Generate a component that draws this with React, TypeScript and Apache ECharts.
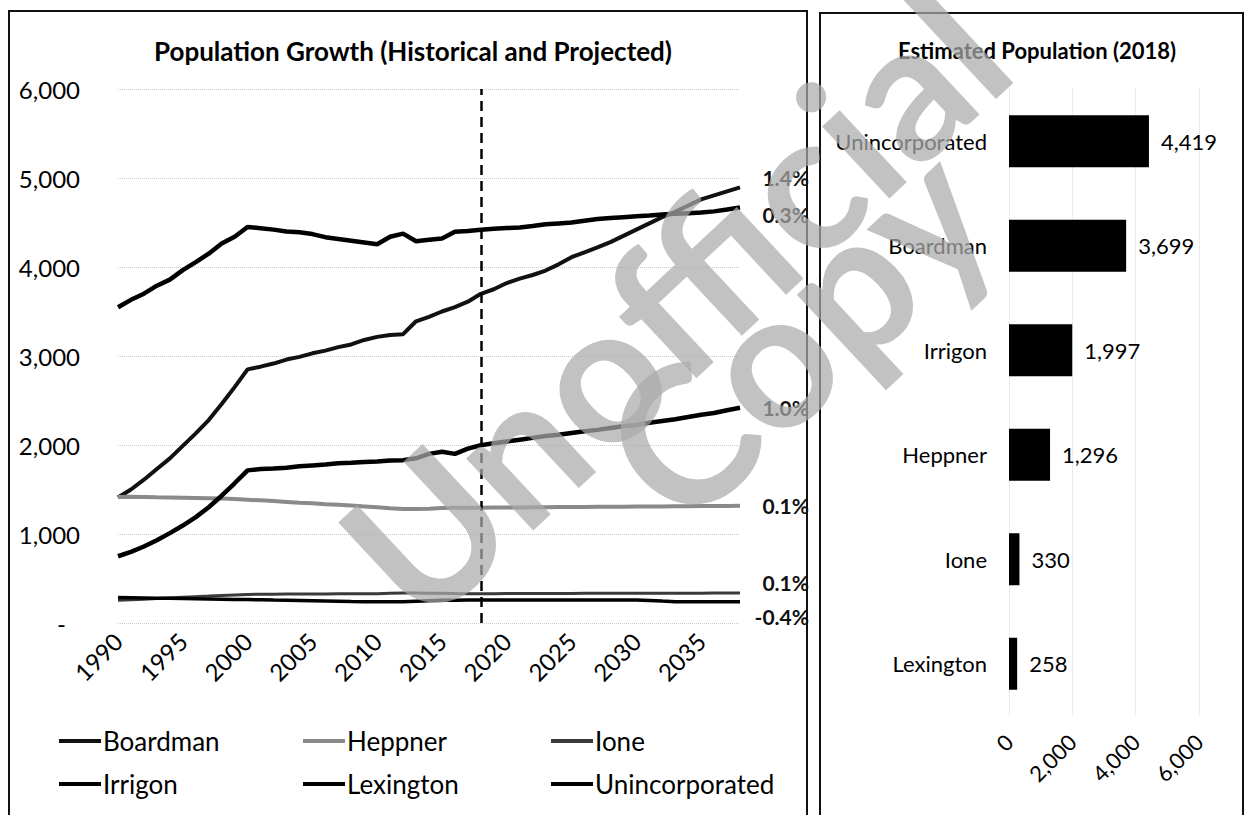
import React, { useEffect, useRef } from "react";
import * as echarts from "echarts";

const years: string[] = [];
for (let y = 1990; y <= 2038; y++) years.push(String(y));

const boardman = [1410,1500,1610,1730,1850,1990,2130,2280,2460,2650,2850,2880,2915,2960,2990,3030,3060,3100,3130,3180,3215,3235,3245,3390,3440,3500,3550,3610,3699,3750,3820,3870,3910,3960,4030,4110,4165,4220,4280,4350,4420,4490,4560,4620,4690,4760,4805,4850,4895];
const heppner = [1415,1418,1415,1412,1410,1408,1405,1402,1398,1392,1385,1378,1370,1360,1350,1345,1335,1328,1320,1310,1300,1290,1282,1280,1285,1292,1295,1295,1296,1297,1298,1299,1300,1301,1302,1303,1304,1305,1306,1307,1308,1309,1310,1311,1312,1314,1315,1316,1318];
const ione = [255,262,268,275,282,289,296,302,309,315,321,323,324,325,326,327,327,328,328,329,329,335,336,336,335,333,331,330,330,330,331,331,331,332,332,332,333,333,333,333,334,334,334,335,335,335,336,336,336];
const irrigon = [750,800,860,930,1010,1095,1190,1300,1430,1570,1715,1730,1735,1745,1760,1770,1780,1795,1800,1810,1815,1825,1830,1850,1900,1925,1900,1960,1997,2020,2040,2060,2080,2100,2115,2135,2155,2170,2190,2210,2225,2250,2270,2290,2315,2340,2360,2390,2418];
const lexington = [286,284,282,279,277,275,272,270,268,265,263,261,258,256,253,250,247,244,241,239,238,238,238,245,250,255,257,258,258,258,258,258,258,258,258,258,258,258,258,258,258,254,246,240,238,238,238,238,238];
const unincorporated = [3547,3631,3700,3790,3858,3965,4055,4150,4265,4340,4450,4435,4420,4400,4390,4370,4335,4315,4295,4275,4255,4340,4375,4290,4305,4320,4395,4405,4419,4430,4437,4443,4460,4480,4490,4500,4520,4540,4550,4560,4570,4578,4590,4598,4605,4612,4625,4645,4668];

const seriesNames = ["Boardman", "Heppner", "Ione", "Irrigon", "Lexington", "Unincorporated"];
const growthLabels = ["1.4%", "0.1%", "0.1%", "1.0%", "-0.4%", "0.3%"];

const barCategories = ["Unincorporated", "Boardman", "Irrigon", "Heppner", "Ione", "Lexington"];
const barValues = [4419, 3699, 1997, 1296, 330, 258];

const FONT = "Lato";

export default function App() {
  const ref = useRef<HTMLDivElement>(null);
  useEffect(() => {
    if (!ref.current) return;
    const chart = echarts.init(ref.current, undefined, { renderer: "svg" });
    const lineData = [boardman, heppner, ione, irrigon, lexington, unincorporated];
    const colors = ["#111", "#8a8a8a", "#3a3a3a", "#000", "#000", "#000"];
    const widths = [4, 4, 3, 4.5, 3.5, 4.5];
    const labelDy = [-10, 0, -11, 0, 15, 7];
    const fmt = (v: number) => v.toLocaleString("en-US");

    const lineSeries = seriesNames.map((name, i) => ({
      name,
      type: "line",
      xAxisIndex: 0,
      yAxisIndex: 0,
      data: lineData[i],
      symbol: "none",
      showSymbol: false,
      color: colors[i],
      lineStyle: { color: colors[i], width: widths[i] },
      endLabel: {
        show: true,
        formatter: () => growthLabels[i],
        fontFamily: FONT,
        fontWeight: "bold",
        fontSize: 21,
        color: "#111",
        align: "right",
        offset: [61, labelDy[i]],
      },
      ...(name === "Unincorporated"
        ? {
            markLine: {
              silent: true,
              symbol: ["none", "none"],
              label: { show: false },
              lineStyle: { color: "#000", width: 2.5, type: [10, 6] },
              data: [{ xAxis: "2018" }],
            },
          }
        : {}),
    }));

    const legendPos = [
      [54, 723], [298, 723], [546, 723],
      [54, 766], [298, 766], [546, 766],
    ];

    const wmStyle = {
      fontFamily: FONT,
      fontWeight: "bold",
      fontSize: 192,
      fill: "rgba(170,170,170,0.72)",
      align: "center",
      verticalAlign: "middle",
    };

    chart.setOption({
      animation: false,
      textStyle: { fontFamily: FONT },
      title: [
        {
          text: "Population Growth (Historical and Projected)",
          left: 408,
          top: 33,
          textAlign: "center",
          textStyle: { fontFamily: FONT, fontWeight: "bold", fontSize: 26, color: "#000" },
        },
        {
          text: "Estimated Population (2018)",
          left: 1032,
          top: 34,
          textAlign: "center",
          textStyle: { fontFamily: FONT, fontWeight: "bold", fontSize: 22, color: "#000" },
        },
      ],
      legend: seriesNames.map((n, i) => ({
        data: [n],
        left: legendPos[i][0],
        top: legendPos[i][1],
        icon: "rect",
        itemWidth: 42,
        itemHeight: 4,
        itemGap: 0,
        textStyle: { fontFamily: FONT, fontSize: 26, color: "#000", padding: [0, 0, 0, -3] },
        selectedMode: false,
      })),
      grid: [
        { left: 118, right: 505, top: 89, bottom: 192 },
        { left: 1009, right: 46, top: 89, bottom: 99 },
      ],
      xAxis: [
        {
          type: "category",
          gridIndex: 0,
          data: years,
          boundaryGap: false,
          axisLine: { show: false },
          axisTick: { show: false },
          axisLabel: { interval: 4, rotate: 45, fontSize: 24, color: "#000", margin: 14, fontFamily: FONT },
          splitLine: { show: false },
        },
        {
          type: "value",
          gridIndex: 1,
          min: 0,
          max: 6000,
          interval: 2000,
          axisLine: { show: false },
          axisTick: { show: false },
          axisLabel: { rotate: 45, fontSize: 22, color: "#000", margin: 22, fontFamily: FONT, formatter: (v: number) => fmt(v) },
          splitLine: { show: true, lineStyle: { color: "#d8d8d8", type: "dotted", width: 1 } },
        },
      ],
      yAxis: [
        {
          type: "value",
          gridIndex: 0,
          min: 0,
          max: 6000,
          interval: 1000,
          axisLine: { show: false },
          axisTick: { show: false },
          axisLabel: {
            fontSize: 24,
            color: "#000",
            margin: 38,
            fontFamily: FONT,
            formatter: (v: number) => (v === 0 ? "{d|-}" : fmt(v)),
            rich: { d: { fontSize: 24, color: "#000", padding: [0, 14, 0, 0], fontFamily: FONT } },
          },
          splitLine: { show: true, lineStyle: { color: "#c8c8c8", type: "dotted", width: 1 } },
        },
        {
          type: "category",
          gridIndex: 1,
          data: barCategories,
          inverse: true,
          axisLine: { show: false },
          axisTick: { show: false },
          axisLabel: { fontSize: 22, color: "#000", margin: 22, fontFamily: FONT },
        },
      ],
      series: [
        ...lineSeries,
        {
          name: "Estimated Population (2018)",
          type: "bar",
          xAxisIndex: 1,
          yAxisIndex: 1,
          data: barValues,
          barWidth: 52,
          itemStyle: { color: "#000" },
          label: {
            show: true,
            position: "right",
            distance: 12,
            fontSize: 22,
            color: "#000",
            fontFamily: FONT,
            formatter: (p: any) => fmt(p.value),
          },
        },
      ],
      graphic: [
        {
          type: "rect",
          shape: { x: 9, y: 11, width: 798, height: 830 },
          style: { fill: "none", stroke: "#111", lineWidth: 2 },
          z: 1,
        },
        {
          type: "rect",
          shape: { x: 820, y: 13, width: 423, height: 830 },
          style: { fill: "none", stroke: "#111", lineWidth: 2 },
          z: 1,
        },
        {
          type: "text",
          x: 672,
          y: 300,
          rotation: (43 * Math.PI) / 180,
          z: 100,
          silent: true,
          style: { ...wmStyle, text: "Unofficial" },
        },
        {
          type: "text",
          x: 795,
          y: 330,
          rotation: (43 * Math.PI) / 180,
          z: 100,
          silent: true,
          style: { ...wmStyle, text: "Copy" },
        },
      ],
    });
    return () => chart.dispose();
  }, []);
  return (
    <div
      ref={ref}
      style={{ position: "fixed", left: 0, top: 0, width: 1245, height: 815, background: "#fff" }}
    />
  );
}
